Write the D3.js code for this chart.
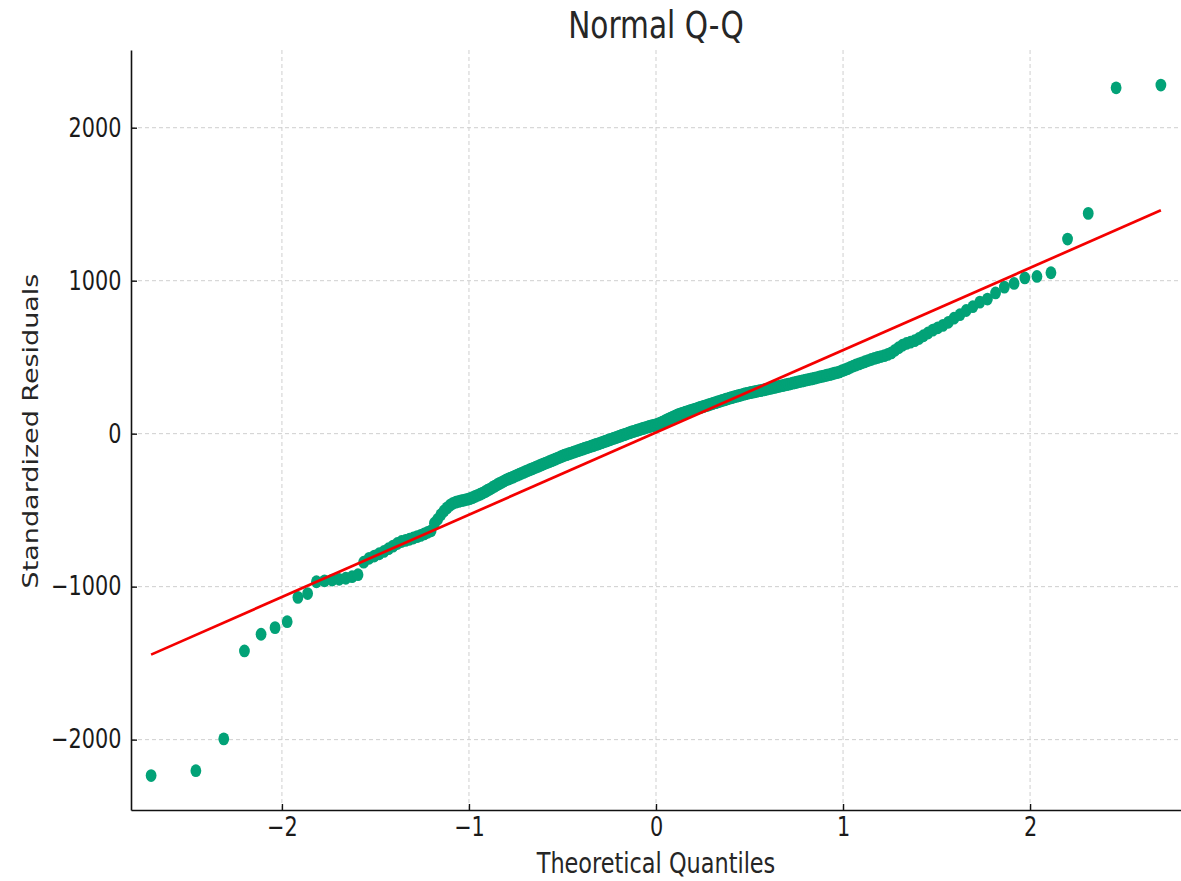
<!DOCTYPE html>
<html>
<head>
<meta charset="utf-8">
<script src="https://cdn.jsdelivr.net/npm/d3@7"></script>
<style>
  body { margin: 0; background: #fff; }
  svg { display: block; font-family: "DejaVu Sans", sans-serif; }
</style>
</head>
<body>
<div id="chart"></div>
<script>
// sorted residuals (one per point, lowest first)
let residuals = [
    -2235, -2203, -1995, -1420, -1311, -1268, -1229, -1070, -1045, -968,
    -962, -957, -952, -945, -935, -922, -840, -815, -800, -785,
    -770, -752, -735, -718, -705, -698, -690, -682, -673, -665,
    -655, -645, -635, -585, -560, -530, -505, -485, -468, -455,
    -448, -443, -438, -434, -430, -425, -418, -410, -403, -396,
    -388, -379, -370, -362, -352, -343, -334, -325, -318, -310,
    -302, -296, -290, -284, -277, -271, -265, -259, -253, -247,
    -241, -236, -230, -225, -219, -214, -208, -203, -197, -192,
    -187, -182, -177, -172, -167, -161, -156, -151, -146, -141,
    -137, -133, -129, -125, -121, -117, -113, -109, -105, -101,
    -97, -93, -89, -86, -82, -78, -74, -70, -67, -63,
    -59, -55, -51, -47, -43, -39, -35, -31, -28, -24,
    -20, -16, -12, -8, -5, -1, 3, 7, 11, 14,
    17, 21, 24, 27, 31, 34, 37, 40, 44, 47,
    50, 52, 55, 58, 62, 66, 71, 76,
    81, 86, 91, 96, 101, 106, 111, 116, 121, 126,
    129, 133, 136, 140, 143, 147, 150, 154, 157, 161,
    164, 168, 171, 175, 178, 182, 185, 189, 192, 196,
    200, 203, 207, 210, 214, 218, 221, 225, 228, 232,
    235, 238, 242, 245, 248, 251, 254, 258, 261, 264,
    267, 269, 272, 274, 277, 280, 282, 285, 287, 290,
    293, 296, 299, 302, 305, 308, 311, 314, 317, 320,
    323, 326, 330, 333, 336, 340, 343, 346, 350, 353,
    356, 359, 363, 367, 371, 374, 378, 382, 386, 390,
    395, 399, 404, 412, 418, 425, 434, 442, 449, 456,
    463, 470, 478, 485, 492, 498, 504, 510, 518, 528,
    545, 562, 578, 590, 598, 608, 622, 640, 658, 677,
    692, 708, 728, 755, 778, 805, 830, 860, 880, 920,
    958, 982, 1018, 1028, 1052, 1272, 1440, 2261, 2279
];

// reference line
let lineIntercept = 8;
let lineSlope = 538;

let xTicks = [-2, -1, 0, 1, 2];
let yTicks = [-2000, -1000, 0, 1000, 2000];

let titleText = "Normal Q-Q";
let xLabel = "Theoretical Quantiles";
let yLabel = "Standardized Residuals";

// inverse normal cdf (Acklam)
function normalQuantile(p) {
    let a = [-3.969683028665376e+01, 2.209460984245205e+02, -2.759285104469687e+02, 1.383577518672690e+02, -3.066479806614716e+01, 2.506628277459239e+00];
    let b = [-5.447609879822406e+01, 1.615858368580409e+02, -1.556989798598866e+02, 6.680131188771972e+01, -1.328068155288572e+01];
    let c = [-7.784894002430293e-03, -3.223964580411365e-01, -2.400758277161838e+00, -2.549732539343734e+00, 4.374664141464968e+00, 2.938163982698783e+00];
    let d = [7.784695709041462e-03, 3.224671290700398e-01, 2.445134137142996e+00, 3.754408661907416e+00];
    let pLow = 0.02425;
    let q, r;
    if (p < pLow) {
        q = Math.sqrt(-2 * Math.log(p));
        return (((((c[0] * q + c[1]) * q + c[2]) * q + c[3]) * q + c[4]) * q + c[5]) /
            ((((d[0] * q + d[1]) * q + d[2]) * q + d[3]) * q + 1);
    }
    if (p <= 1 - pLow) {
        q = p - 0.5;
        r = q * q;
        return (((((a[0] * r + a[1]) * r + a[2]) * r + a[3]) * r + a[4]) * r + a[5]) * q /
            (((((b[0] * r + b[1]) * r + b[2]) * r + b[3]) * r + b[4]) * r + 1);
    }
    q = Math.sqrt(-2 * Math.log(1 - p));
    return -(((((c[0] * q + c[1]) * q + c[2]) * q + c[3]) * q + c[4]) * q + c[5]) /
        ((((d[0] * q + d[1]) * q + d[2]) * q + d[3]) * q + 1);
}

let n = residuals.length;
let points = residuals.map(function (v, i) {
    return { q: normalQuantile((i + 1) / (n + 1)), v: v };
});

let width = 1181;
let height = 881;
let squeeze = 0.8; // text in the reference is narrowed horizontally

let xScale = d3.scaleLinear()
    .domain([-2.807, 2.807])
    .range([131, 1181]);

let yScale = d3.scaleLinear()
    .domain([-2460, 2508])
    .range([810, 50]);

let svg = d3.select('#chart').append('svg')
    .attr('width', width)
    .attr('height', height);

// grid
let grid = svg.append('g')
    .attr('stroke', '#cfcfcf')
    .attr('stroke-width', 1)
    .attr('stroke-dasharray', '4,3');

grid.selectAll('.vgrid').data(xTicks)
    .enter().append('line')
    .attr('x1', d => xScale(d)).attr('x2', d => xScale(d))
    .attr('y1', yScale.range()[0]).attr('y2', yScale.range()[1]);

grid.selectAll('.hgrid').data(yTicks)
    .enter().append('line')
    .attr('x1', xScale.range()[0]).attr('x2', xScale.range()[1])
    .attr('y1', d => yScale(d)).attr('y2', d => yScale(d));

// points
svg.append('g')
    .selectAll('ellipse').data(points)
    .enter().append('ellipse')
    .attr('cx', d => xScale(d.q))
    .attr('cy', d => yScale(d.v))
    .attr('rx', 5.4)
    .attr('ry', 6.4)
    .attr('fill', '#02a277');

// reference line
let qExtent = d3.extent(points, d => d.q);
svg.append('line')
    .attr('x1', xScale(qExtent[0]))
    .attr('y1', yScale(lineIntercept + lineSlope * qExtent[0]))
    .attr('x2', xScale(qExtent[1]))
    .attr('y2', yScale(lineIntercept + lineSlope * qExtent[1]))
    .attr('stroke', '#f40000')
    .attr('stroke-width', 2.7);

// axes
let fmt = d3.format('d');

let xAxis = d3.axisBottom(xScale)
    .tickValues(xTicks)
    .tickFormat(fmt)
    .tickSizeInner(-6)
    .tickSizeOuter(0)
    .tickPadding(8);

let xg = svg.append('g')
    .attr('transform', 'translate(0,' + yScale.range()[0] + ')')
    .call(xAxis);

let yAxis = d3.axisLeft(yScale)
    .tickValues(yTicks)
    .tickFormat(fmt)
    .tickSizeInner(-6)
    .tickSizeOuter(0)
    .tickPadding(12);

let yg = svg.append('g')
    .attr('transform', 'translate(' + xScale.range()[0] + ',0)')
    .call(yAxis);

[xg, yg].forEach(function (g) {
    g.select('.domain').attr('stroke', '#111').attr('stroke-width', 1.6);
    g.selectAll('.tick line').attr('stroke', '#111').attr('stroke-width', 1.4);
    g.selectAll('.tick text')
        .attr('fill', '#1a1a1a')
        .style('font-size', '26px')
        .style('font-family', '"DejaVu Sans", sans-serif')
        .attr('transform', 'scale(' + squeeze + ',1)');
});

// title and axis labels
svg.append('text')
    .attr('transform', 'translate(656,38) scale(' + squeeze + ',1)')
    .attr('text-anchor', 'middle')
    .attr('fill', '#262626')
    .style('font-size', '37px')
    .text(titleText);

svg.append('text')
    .attr('transform', 'translate(656,873) scale(' + squeeze + ',1)')
    .attr('text-anchor', 'middle')
    .attr('fill', '#262626')
    .style('font-size', '28px')
    .text(xLabel);

svg.append('text')
    .attr('transform', 'translate(38,431) scale(' + squeeze + ',1) rotate(-90)')
    .attr('text-anchor', 'middle')
    .attr('fill', '#262626')
    .style('font-size', '27px')
    .text(yLabel);
</script>
</body>
</html>
